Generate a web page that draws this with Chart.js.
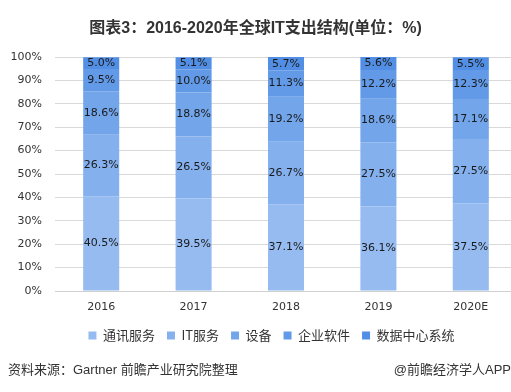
<!DOCTYPE html>
<html>
<head>
<meta charset="utf-8">
<script src="https://cdn.jsdelivr.net/npm/chart.js@4"></script>
<style>
  html, body { margin: 0; padding: 0; background: #fff; overflow: hidden; }
  #wrap { position: relative; width: 511px; height: 392px; overflow: hidden; }
  #c { position: absolute; left: 0; top: 0; }
  .txt { position: absolute; color: #333; white-space: nowrap; font-family: "Liberation Sans", "Noto Sans CJK SC", sans-serif; }
  #title { left: 0; width: 511px; top: 14px; text-align: center; font-size: 16px; font-weight: bold; color: #333; }
  #source { left: 8px; top: 359px; font-size: 13px; }
  #brand { right: 0; top: 359px; font-size: 13px; }
</style>
</head>
<body>
<div id="wrap">
  <canvas id="c" width="520" height="392"></canvas>
  <div class="txt" id="title">图表3：2016-2020年全球IT支出结构(单位：%)</div>
  <div class="txt" id="source">资料来源：Gartner 前瞻产业研究院整理</div>
  <div class="txt" id="brand">@前瞻经济学人APP</div>
</div>
<script>
var years = ['2016', '2017', '2018', '2019', '2020E'];
var seriesNames = ['通讯服务', 'IT服务', '设备', '企业软件', '数据中心系统'];
var telecom = [40.5, 39.5, 37.1, 36.1, 37.5];
var itServices = [26.3, 26.5, 26.7, 27.5, 27.5];
var devices = [18.6, 18.8, 19.2, 18.6, 17.1];
var software = [9.5, 10.0, 11.3, 12.2, 12.3];
var dataCenter = [5.0, 5.1, 5.7, 5.6, 5.5];
var colors = ['#95bbf0', '#84b0ee', '#72a5ea', '#629ae7', '#528fe4'];

var numFont = '"DejaVu Sans", "Noto Sans CJK SC", sans-serif';

// draw the value inside each stacked segment
var segLabels = {
    id: 'segLabels',
    afterLayout: function (chart) {
        // legend sits a little right of the canvas centre in the original
        chart.legend.left += 13;
        chart.legend.right += 13;
    },
    afterDatasetsDraw: function (chart) {
        var ctx = chart.ctx;
        ctx.save();
        ctx.font = '11px ' + numFont;
        ctx.fillStyle = '#1a1a1a';
        ctx.textAlign = 'center';
        ctx.textBaseline = 'middle';
        chart.data.datasets.forEach(function (ds, i) {
            var meta = chart.getDatasetMeta(i);
            meta.data.forEach(function (bar, j) {
                var mid = (bar.y + bar.base) / 2;
                ctx.fillText(ds.data[j].toFixed(1) + '%', bar.x, mid);
            });
        });
        ctx.restore();
    }
};

var allData = [telecom, itServices, devices, software, dataCenter];
var datasets = seriesNames.map(function (name, i) {
    return {
        label: name,
        data: allData[i],
        backgroundColor: colors[i],
        borderWidth: 0,
        barPercentage: 1,
        categoryPercentage: 0.39
    };
});

new Chart(document.getElementById('c'), {
    type: 'bar',
    data: { labels: years, datasets: datasets },
    options: {
        responsive: false,
        animation: false,
        layout: { padding: { top: 57, right: 3, left: 0, bottom: 40 } },
        plugins: {
            legend: {
                position: 'bottom',
                labels: {
                    boxWidth: 8,
                    boxHeight: 8,
                    padding: 12,
                    color: '#333',
                    font: { size: 13, family: '"Noto Sans CJK SC", sans-serif' }
                }
            },
            tooltip: { enabled: false }
        },
        scales: {
            x: {
                stacked: true,
                afterFit: function (s) { s.height = 26; },
                grid: { display: false },
                border: { color: '#d0d0d0' },
                ticks: { color: '#333', padding: 2, font: { size: 11, family: numFont } }
            },
            y: {
                stacked: true,
                min: 0,
                max: 100,
                afterFit: function (s) { s.width = 55; },
                grid: { color: '#d9d9d9', drawTicks: false },
                border: { display: false },
                ticks: {
                    stepSize: 10,
                    padding: 13,
                    color: '#333',
                    font: { size: 11, family: numFont },
                    callback: function (v) { return v + '%'; }
                }
            }
        }
    },
    plugins: [segLabels]
});
</script>
</body>
</html>
